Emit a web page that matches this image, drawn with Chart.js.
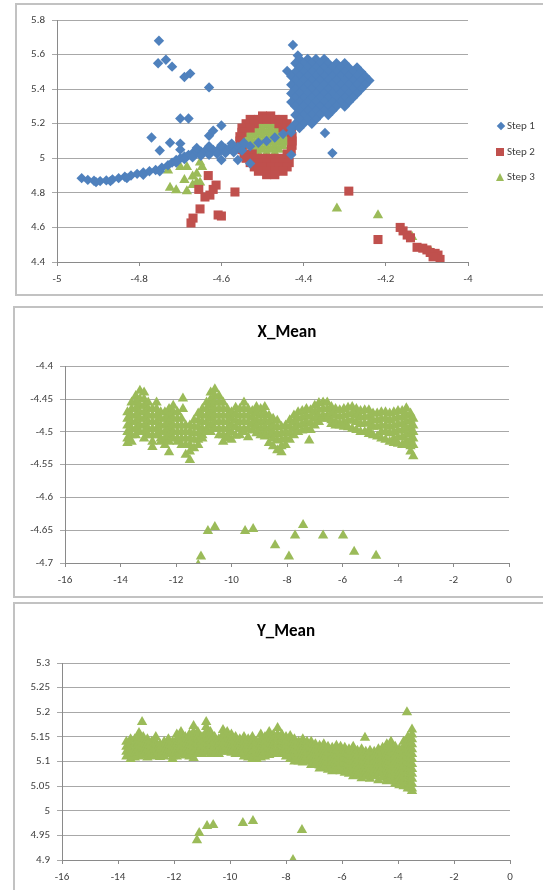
<!DOCTYPE html>
<html>
<head>
<meta charset="utf-8">
<title>Steps and means</title>
<script src="https://cdn.jsdelivr.net/npm/chart.js@4.4.1/dist/chart.umd.min.js"></script>
<style>
    html, body { margin: 0; padding: 0; background: #fff; }
    body { width: 543px; height: 890px; position: relative; overflow: hidden; font-family: Carlito, Lato, sans-serif; }
    .frame { position: absolute; border: 2px solid #c2c2c2; box-sizing: border-box; }
    canvas { position: absolute; left: 0; }
    .legendItem { position: absolute; left: 496px; height: 14px; line-height: 14px; font-size: 11px; color: #404040; white-space: nowrap; }
    .legendItem span { display: inline-block; vertical-align: middle; margin-right: 3px; }
    .mk-diamond { width: 6px; height: 6px; background: #4f81bd; transform: rotate(45deg); margin-left: 2px; }
    .mk-square { width: 8px; height: 8px; background: #c0504d; }
    .mk-triangle { width: 0; height: 0; border-left: 4.5px solid transparent; border-right: 4.5px solid transparent; border-bottom: 8px solid #9bbb59; }
</style>
</head>
<body>

<div class="frame" style="left:15px; top:3px; width:540px; height:293px;"></div>
<div class="frame" style="left:13px; top:306px; width:542px; height:292px;"></div>
<div class="frame" style="left:13px; top:602px; width:542px; height:300px;"></div>

<canvas id="stepChart" width="543" height="297" style="top:0px;"></canvas>
<canvas id="xMeanChart" width="543" height="297" style="top:300px;"></canvas>
<canvas id="yMeanChart" width="543" height="292" style="top:598px;"></canvas>

<div class="legendItem" style="top:119px;"><span class="mk-diamond"></span>Step 1</div>
<div class="legendItem" style="top:145px;"><span class="mk-square"></span>Step 2</div>
<div class="legendItem" style="top:170px;"><span class="mk-triangle"></span>Step 3</div>

<script>
// ----------- Data ----------------- //

// scattered points are [x, y]
// blob rows are [y, x1, x2, ...]
// band columns are [x, y1, y2, ...]

const step1Points = [
    [-4.94,4.885],[-4.925,4.875],[-4.91,4.87],[-4.895,4.868],[-4.88,4.872],[-4.865,4.878],[-4.85,4.885],
    [-4.835,4.893],[-4.82,4.9],[-4.805,4.91],[-4.79,4.918],[-4.775,4.925],[-4.76,4.932],[-4.745,4.945],
    [-4.73,4.96],[-4.72,4.975],[-4.71,4.99],[-4.70,5.0],[-4.69,5.01],[-4.68,5.02],[-4.67,5.03],[-4.66,5.035],
    [-4.65,5.04],[-4.64,5.042],[-4.63,5.045],[-4.62,5.048],[-4.61,5.046],[-4.60,5.05],[-4.59,5.055],
    [-4.58,5.058],[-4.57,5.06],[-4.56,5.065],[-4.55,5.07],
    [-4.905,4.862],[-4.87,4.868],[-4.83,4.885],[-4.79,4.905],[-4.75,4.925],[-4.71,4.975],[-4.69,4.995],
    [-4.67,5.005],[-4.65,5.015],[-4.63,5.02],[-4.61,5.025],[-4.59,5.03],[-4.57,5.035],[-4.55,5.045],
    [-4.66,5.06],[-4.63,5.07],[-4.60,5.075],[-4.575,5.085],[-4.545,5.09],[-4.56,4.99],[-4.60,4.99],[-4.53,4.97],
    [-4.53,5.07],[-4.51,5.09],[-4.49,5.1],[-4.47,5.12],[-4.45,5.14],[-4.43,5.02],
    [-4.43,5.15],[-4.425,5.18],[-4.348,5.146],[-4.33,5.03],
    [-4.752,5.68],[-4.754,5.55],[-4.735,5.57],[-4.72,5.53],[-4.69,5.47],[-4.676,5.49],[-4.63,5.41],
    [-4.70,5.23],[-4.68,5.23],[-4.77,5.12],[-4.63,5.13],[-4.62,5.16],[-4.60,5.19],[-4.725,5.09],
    [-4.70,5.085],[-4.75,5.045],[-4.70,5.05],
    [-4.426,5.655],[-4.414,5.595],[-4.44,5.505]
];
const step1Blob = [
    [5.575, -4.41,-4.39,-4.37,-4.35],
    [5.55, -4.42,-4.40,-4.38,-4.36,-4.34,-4.32,-4.30],
    [5.525, -4.41,-4.39,-4.37,-4.35,-4.33,-4.31,-4.29,-4.27],
    [5.50, -4.42,-4.40,-4.38,-4.36,-4.34,-4.32,-4.30,-4.28,-4.26],
    [5.475, -4.43,-4.41,-4.39,-4.37,-4.35,-4.33,-4.31,-4.29,-4.27,-4.25],
    [5.45, -4.42,-4.40,-4.38,-4.36,-4.34,-4.32,-4.30,-4.28,-4.26,-4.24],
    [5.425, -4.43,-4.41,-4.39,-4.37,-4.35,-4.33,-4.31,-4.29,-4.27,-4.25],
    [5.40, -4.42,-4.40,-4.38,-4.36,-4.34,-4.32,-4.30,-4.28,-4.26],
    [5.375, -4.43,-4.41,-4.39,-4.37,-4.35,-4.33,-4.31,-4.29,-4.27],
    [5.35, -4.42,-4.40,-4.38,-4.36,-4.34,-4.32,-4.30,-4.28],
    [5.325, -4.43,-4.41,-4.39,-4.37,-4.35,-4.33,-4.31,-4.29],
    [5.30, -4.42,-4.40,-4.38,-4.36,-4.34,-4.32,-4.30],
    [5.275, -4.41,-4.39,-4.37,-4.35,-4.33],
    [5.25, -4.42,-4.40,-4.38,-4.36,-4.34],
    [5.225, -4.41,-4.39,-4.37],
    [5.20, -4.42,-4.40,-4.38],
    [5.175, -4.43,-4.41]
];

const step2Points = [
    [-4.632,4.90],[-4.613,4.845],[-4.62,4.82],[-4.628,4.787],[-4.64,4.776],[-4.655,4.82],[-4.567,4.805],
    [-4.652,4.707],[-4.669,4.654],[-4.674,4.626],[-4.608,4.672],[-4.60,4.666],
    [-4.29,4.81],[-4.219,4.53],[-4.165,4.60],[-4.158,4.58],[-4.148,4.556],[-4.14,4.54],[-4.124,4.485],
    [-4.11,4.48],[-4.10,4.47],[-4.092,4.455],[-4.08,4.45],[-4.073,4.44],[-4.068,4.415],[-4.085,4.43]
];
const step2Blob = [
    [5.245, -4.50,-4.48],
    [5.225, -4.53,-4.51,-4.49,-4.47,-4.45],
    [5.20, -4.54,-4.52,-4.46,-4.44],
    [5.175, -4.55,-4.53,-4.45,-4.43],
    [5.15, -4.55,-4.43],
    [5.125, -4.555,-4.428],
    [5.10, -4.555,-4.428],
    [5.075, -4.55,-4.428],
    [5.05, -4.55,-4.43],
    [5.025, -4.545,-4.525,-4.44],
    [5.00, -4.54,-4.52,-4.50,-4.48,-4.46,-4.44],
    [4.975, -4.53,-4.51,-4.49,-4.47,-4.45,-4.435],
    [4.95, -4.52,-4.50,-4.48,-4.46,-4.44],
    [4.925, -4.51,-4.49,-4.47,-4.45],
    [4.905, -4.49,-4.47]
];

const step3Points = [
    [-4.725,4.83],[-4.71,4.815],[-4.684,4.81],[-4.70,4.95],[-4.684,4.95],[-4.652,4.975],[-4.647,4.95],
    [-4.69,4.875],[-4.67,4.895],[-4.66,4.86],[-4.67,4.845],[-4.652,4.86],[-4.73,4.93],[-4.66,4.91],
    [-4.319,4.71],[-4.219,4.67],[-4.136,4.545],[-4.09,4.46]
];
const step3Blob = [
    [5.21, -4.50,-4.48],
    [5.19, -4.51,-4.49,-4.47],
    [5.17, -4.52,-4.50,-4.48,-4.46],
    [5.15, -4.53,-4.51,-4.49,-4.47,-4.45],
    [5.13, -4.54,-4.52,-4.50,-4.48,-4.46,-4.44],
    [5.11, -4.545,-4.53,-4.51,-4.49,-4.47,-4.45,-4.435],
    [5.09, -4.54,-4.52,-4.50,-4.48,-4.46,-4.44],
    [5.07, -4.53,-4.51,-4.49,-4.47,-4.45],
    [5.05, -4.52,-4.50,-4.48,-4.46],
    [5.03, -4.51,-4.49,-4.47]
];

const xMeanBand = [
    [-13.75,-4.47,-4.48,-4.49,-4.50,-4.51,-4.517],
    [-13.6,-4.455,-4.465,-4.475,-4.485,-4.495,-4.505,-4.515],
    [-13.45,-4.445,-4.455,-4.465,-4.475,-4.485,-4.495,-4.505],
    [-13.3,-4.437,-4.45,-4.46,-4.47,-4.48,-4.49,-4.50],
    [-13.15,-4.44,-4.45,-4.46,-4.47,-4.48,-4.49,-4.50,-4.51],
    [-13.0,-4.455,-4.465,-4.475,-4.485,-4.495,-4.505],
    [-12.85,-4.465,-4.475,-4.485,-4.495,-4.505,-4.515,-4.523],
    [-12.7,-4.455,-4.465,-4.475,-4.485,-4.495,-4.505],
    [-12.55,-4.47,-4.48,-4.49,-4.50,-4.51,-4.515],
    [-12.4,-4.47,-4.48,-4.49,-4.50,-4.51,-4.52],
    [-12.25,-4.465,-4.475,-4.485,-4.495,-4.505,-4.515,-4.531],
    [-12.1,-4.46,-4.47,-4.48,-4.49,-4.50,-4.51],
    [-11.95,-4.47,-4.48,-4.49,-4.50,-4.51,-4.515],
    [-11.8,-4.48,-4.49,-4.50,-4.51,-4.52],
    [-11.75,-4.449,-4.465],
    [-11.65,-4.49,-4.50,-4.51,-4.52,-4.535],
    [-11.5,-4.49,-4.50,-4.51,-4.52,-4.53,-4.543],
    [-11.35,-4.482,-4.492,-4.502,-4.512,-4.525],
    [-11.2,-4.472,-4.482,-4.492,-4.502,-4.512,-4.52],
    [-11.05,-4.465,-4.475,-4.485,-4.495,-4.505,-4.51],
    [-10.9,-4.455,-4.465,-4.475,-4.485,-4.495,-4.50],
    [-10.75,-4.44,-4.45,-4.46,-4.47,-4.48,-4.49,-4.50],
    [-10.6,-4.435,-4.445,-4.455,-4.465,-4.475,-4.485,-4.495],
    [-10.45,-4.445,-4.455,-4.465,-4.475,-4.485,-4.495,-4.505],
    [-10.3,-4.455,-4.465,-4.475,-4.485,-4.495,-4.505,-4.515],
    [-10.15,-4.465,-4.475,-4.485,-4.495,-4.505,-4.51],
    [-10.0,-4.47,-4.48,-4.49,-4.50,-4.512],
    [-9.85,-4.463,-4.473,-4.483,-4.493,-4.506],
    [-9.7,-4.465,-4.475,-4.485,-4.495,-4.505],
    [-9.55,-4.455,-4.465,-4.475,-4.485,-4.495,-4.50],
    [-9.4,-4.465,-4.475,-4.485,-4.495,-4.508],
    [-9.25,-4.468,-4.478,-4.488,-4.498],
    [-9.1,-4.462,-4.472,-4.482,-4.492,-4.502],
    [-8.95,-4.465,-4.475,-4.485,-4.495,-4.505],
    [-8.8,-4.462,-4.472,-4.482,-4.492,-4.502,-4.507],
    [-8.65,-4.475,-4.485,-4.495,-4.505,-4.517],
    [-8.5,-4.48,-4.49,-4.50,-4.51,-4.522],
    [-8.35,-4.483,-4.493,-4.503,-4.513,-4.528],
    [-8.2,-4.492,-4.502,-4.512,-4.522,-4.531],
    [-8.05,-4.49,-4.50,-4.51,-4.52],
    [-7.9,-4.482,-4.492,-4.502,-4.512],
    [-7.75,-4.475,-4.485,-4.495,-4.505],
    [-7.6,-4.47,-4.48,-4.49,-4.50],
    [-7.45,-4.468,-4.478,-4.488,-4.498],
    [-7.3,-4.465,-4.475,-4.485,-4.495],
    [-7.2,-4.513],
    [-7.15,-4.467,-4.477,-4.487,-4.497],
    [-7.0,-4.46,-4.47,-4.48,-4.49],
    [-6.85,-4.456,-4.466,-4.476,-4.485],
    [-6.7,-4.455,-4.465,-4.475,-4.48],
    [-6.55,-4.455,-4.465,-4.475,-4.48],
    [-6.4,-4.462,-4.472,-4.482,-4.488],
    [-6.25,-4.465,-4.475,-4.485,-4.49],
    [-6.1,-4.467,-4.477,-4.487,-4.49],
    [-5.95,-4.465,-4.475,-4.485,-4.492],
    [-5.8,-4.463,-4.473,-4.483,-4.493],
    [-5.65,-4.462,-4.472,-4.482,-4.495],
    [-5.5,-4.465,-4.475,-4.485,-4.497],
    [-5.35,-4.468,-4.478,-4.488,-4.50],
    [-5.2,-4.467,-4.477,-4.487,-4.50],
    [-5.05,-4.467,-4.477,-4.487,-4.497,-4.503],
    [-4.9,-4.472,-4.482,-4.492,-4.505],
    [-4.75,-4.472,-4.482,-4.492,-4.507],
    [-4.6,-4.47,-4.48,-4.49,-4.50,-4.51],
    [-4.45,-4.47,-4.48,-4.49,-4.50,-4.512],
    [-4.3,-4.472,-4.482,-4.492,-4.502,-4.515],
    [-4.15,-4.47,-4.48,-4.49,-4.50,-4.51,-4.517],
    [-4.0,-4.468,-4.478,-4.488,-4.498,-4.508,-4.518],
    [-3.85,-4.468,-4.478,-4.488,-4.498,-4.508,-4.52],
    [-3.7,-4.464,-4.474,-4.484,-4.494,-4.504,-4.514,-4.52],
    [-3.55,-4.472,-4.482,-4.492,-4.502,-4.512,-4.522,-4.53],
    [-3.45,-4.48,-4.49,-4.50,-4.51,-4.52,-4.537]
];
const xMeanLow = [
    [-11.2,-4.703],[-11.1,-4.69],[-10.85,-4.651],[-10.6,-4.645],[-9.51,-4.651],[-9.22,-4.648],
    [-8.43,-4.673],[-7.93,-4.69],[-7.71,-4.658],[-7.42,-4.642],[-6.70,-4.658],[-5.98,-4.658],
    [-5.58,-4.683],[-4.79,-4.689]
];

const yMeanBand = [
    [-13.7,5.14,5.13,5.12,5.11],
    [-13.55,5.145,5.135,5.125,5.115,5.105],
    [-13.4,5.145,5.135,5.125,5.115,5.108],
    [-13.25,5.158,5.148,5.138,5.128,5.118,5.11],
    [-13.14,5.18],
    [-13.1,5.15,5.14,5.13,5.12,5.112],
    [-12.95,5.145,5.135,5.125,5.115,5.108],
    [-12.8,5.14,5.13,5.12,5.11],
    [-12.65,5.15,5.14,5.13,5.12,5.112],
    [-12.5,5.135,5.125,5.115,5.109],
    [-12.35,5.14,5.13,5.12,5.11],
    [-12.2,5.145,5.135,5.125,5.115],
    [-12.05,5.14,5.13,5.12,5.11,5.105],
    [-11.9,5.155,5.145,5.135,5.125,5.115,5.11],
    [-11.75,5.16,5.15,5.14,5.13,5.12,5.115],
    [-11.6,5.15,5.14,5.13,5.12,5.112],
    [-11.45,5.155,5.145,5.135,5.125,5.115,5.11],
    [-11.3,5.172,5.16,5.15,5.14,5.13,5.12,5.107],
    [-11.15,5.16,5.15,5.14,5.13,5.12,5.115],
    [-11.0,5.15,5.14,5.13,5.12,5.115],
    [-10.85,5.18,5.17,5.16,5.15,5.14,5.13,5.12],
    [-10.7,5.16,5.15,5.14,5.13,5.12,5.115],
    [-10.55,5.15,5.14,5.13,5.12,5.115],
    [-10.4,5.145,5.135,5.125,5.115],
    [-10.25,5.164,5.155,5.145,5.135,5.125,5.12],
    [-10.1,5.16,5.15,5.14,5.13,5.12],
    [-9.95,5.155,5.145,5.135,5.125,5.118],
    [-9.8,5.15,5.14,5.13,5.12,5.115],
    [-9.65,5.145,5.135,5.125,5.115],
    [-9.5,5.15,5.14,5.13,5.12,5.11],
    [-9.35,5.145,5.135,5.125,5.115,5.108],
    [-9.2,5.15,5.14,5.13,5.12,5.11,5.105],
    [-9.05,5.14,5.13,5.12,5.11,5.105],
    [-8.9,5.155,5.145,5.135,5.125,5.115,5.108],
    [-8.75,5.15,5.14,5.13,5.12,5.11],
    [-8.6,5.16,5.15,5.14,5.13,5.12,5.113],
    [-8.45,5.155,5.145,5.135,5.125,5.115],
    [-8.3,5.168,5.155,5.145,5.135,5.125,5.118],
    [-8.15,5.155,5.145,5.135,5.125,5.115],
    [-8.0,5.15,5.14,5.13,5.12,5.11],
    [-7.85,5.152,5.142,5.132,5.122,5.112,5.105],
    [-7.7,5.145,5.135,5.125,5.115,5.105,5.10],
    [-7.55,5.14,5.13,5.12,5.11,5.10],
    [-7.4,5.145,5.135,5.125,5.115,5.105,5.098],
    [-7.25,5.14,5.13,5.12,5.11,5.10],
    [-7.1,5.14,5.13,5.12,5.11,5.10,5.093],
    [-6.95,5.135,5.125,5.115,5.105,5.095],
    [-6.8,5.132,5.122,5.112,5.102,5.092,5.086],
    [-6.65,5.135,5.125,5.115,5.105,5.095,5.087],
    [-6.5,5.13,5.12,5.11,5.10,5.09,5.083],
    [-6.35,5.128,5.118,5.108,5.098,5.088,5.08],
    [-6.2,5.132,5.122,5.112,5.102,5.092,5.082],
    [-6.05,5.13,5.12,5.11,5.10,5.09,5.08],
    [-5.9,5.128,5.118,5.108,5.098,5.088,5.077],
    [-5.75,5.125,5.115,5.105,5.095,5.085,5.075],
    [-5.6,5.13,5.12,5.11,5.10,5.09,5.08,5.07],
    [-5.45,5.122,5.112,5.102,5.092,5.082,5.072],
    [-5.3,5.125,5.115,5.105,5.095,5.085,5.075,5.066],
    [-5.18,5.148],
    [-5.15,5.12,5.11,5.10,5.09,5.08,5.07],
    [-5.0,5.122,5.112,5.102,5.092,5.082,5.072,5.065],
    [-4.85,5.12,5.11,5.10,5.09,5.08,5.07],
    [-4.7,5.125,5.115,5.105,5.095,5.085,5.075,5.062],
    [-4.55,5.128,5.118,5.108,5.098,5.088,5.078,5.068],
    [-4.4,5.135,5.125,5.115,5.105,5.095,5.085,5.075,5.065,5.06],
    [-4.25,5.14,5.13,5.12,5.11,5.10,5.09,5.08,5.07,5.062],
    [-4.1,5.13,5.12,5.11,5.10,5.09,5.08,5.07,5.06,5.055],
    [-3.95,5.125,5.115,5.105,5.095,5.085,5.075,5.065,5.055,5.052],
    [-3.8,5.14,5.13,5.12,5.11,5.10,5.09,5.08,5.07,5.06,5.05],
    [-3.68,5.20],
    [-3.65,5.15,5.14,5.13,5.12,5.11,5.10,5.09,5.08,5.07,5.06,5.05,5.045],
    [-3.5,5.165,5.155,5.145,5.135,5.125,5.115,5.105,5.095,5.085,5.075,5.065,5.055,5.045,5.04]
];
const yMeanLow = [
    [-11.18,4.94],[-11.1,4.955],[-10.82,4.969],[-10.6,4.971],[-9.54,4.975],[-9.18,4.979],
    [-7.43,4.961],[-7.75,4.90]
];

// axis ranges [min, max, step]
const stepXRange = [-5, -4, 0.2];
const stepYRange = [4.4, 5.8, 0.2];
const meanXRange = [-16, 0, 2];
const xMeanYRange = [-4.7, -4.4, 0.05];
const yMeanYRange = [4.9, 5.3, 0.05];

// ----------- Helpers ----------------- //

const fromPairs = (list) => list.map(([x, y]) => ({ x: x, y: y }));
const fromRows = (list) => {
    let out = [];
    list.forEach(([y, ...xs]) => xs.forEach(x => out.push({ x: x, y: y })));
    return out;
};
const fromCols = (list) => {
    let out = [];
    list.forEach(([x, ...ys]) => ys.forEach(y => out.push({ x: x, y: y })));
    return out;
};

const blue = '#4f81bd', red = '#c0504d', green = '#9bbb59';
const gridGray = '#a8a8a8', axisGray = '#8a8a8a', tickColor = '#404040';

Chart.defaults.font.family = 'Carlito, Lato, sans-serif';

// Excel style labels: 5 not 5.0, -4.4 not -4.40
const plainNumber = (value) => String(Number(value.toFixed(3)));

const xAxis = (range, height) => ({
    type: 'linear',
    min: range[0], max: range[1],
    ticks: { stepSize: range[2], color: tickColor, font: { size: 11 }, padding: 7, maxRotation: 0, autoSkip: false, callback: plainNumber },
    grid: { drawOnChartArea: false, drawTicks: true, tickLength: 4, color: axisGray },
    border: { color: axisGray },
    afterFit: (scale) => { scale.height = height; }
});

const yAxis = (range, width) => ({
    type: 'linear',
    min: range[0], max: range[1],
    ticks: { stepSize: range[2], color: tickColor, font: { size: 11 }, padding: 7, autoSkip: false, callback: plainNumber },
    grid: { color: gridGray, tickLength: 5 },
    border: { color: axisGray },
    afterFit: (scale) => { scale.width = width; }
});

const dot = (label, data, style, radius, color) => ({
    label: label,
    data: data,
    pointStyle: style,
    pointRadius: radius,
    backgroundColor: color,
    borderColor: color,
    borderWidth: 0,
    showLine: false
});

// ----------- Step chart ----------------- //

new Chart(document.getElementById('stepChart'), {
    type: 'scatter',
    data: {
        datasets: [
            dot('Step 1', fromPairs(step1Points).concat(fromRows(step1Blob)), 'rectRot', 5.2, blue),
            dot('Step 2', fromPairs(step2Points).concat(fromRows(step2Blob)), 'rect', 6.4, red),
            dot('Step 3', fromPairs(step3Points).concat(fromRows(step3Blob)), 'triangle', 6, green)
        ]
    },
    options: {
        responsive: false,
        animation: false,
        events: [],
        layout: { padding: { left: 0, top: 20, right: 75, bottom: 5 } },
        scales: { x: xAxis(stepXRange, 30), y: yAxis(stepYRange, 57) },
        plugins: { legend: { display: false }, tooltip: { enabled: false } }
    }
});

// ----------- X_Mean ----------------- //

new Chart(document.getElementById('xMeanChart'), {
    type: 'scatter',
    data: {
        datasets: [
            dot('X_Mean', fromCols(xMeanBand).concat(fromPairs(xMeanLow)), 'triangle', 6, green)
        ]
    },
    options: {
        responsive: false,
        animation: false,
        events: [],
        layout: { padding: { left: 0, top: 8, right: 34, bottom: 4 } },
        scales: { x: xAxis(meanXRange, 30), y: yAxis(xMeanYRange, 65) },
        plugins: {
            legend: { display: false },
            tooltip: { enabled: false },
            title: {
                display: true, text: 'X_Mean', fullSize: false, color: '#000',
                font: { size: 17, weight: 'bold' }, padding: { top: 15, bottom: 23 }
            }
        }
    }
});

// ----------- Y_Mean ----------------- //

new Chart(document.getElementById('yMeanChart'), {
    type: 'scatter',
    data: {
        datasets: [
            dot('Y_Mean', fromCols(yMeanBand).concat(fromPairs(yMeanLow)), 'triangle', 6, green)
        ]
    },
    options: {
        responsive: false,
        animation: false,
        events: [],
        layout: { padding: { left: 0, top: 8, right: 33, bottom: 4 } },
        scales: { x: xAxis(meanXRange, 26), y: yAxis(yMeanYRange, 62) },
        plugins: {
            legend: { display: false },
            tooltip: { enabled: false },
            title: {
                display: true, text: 'Y_Mean', fullSize: false, color: '#000',
                font: { size: 17, weight: 'bold' }, padding: { top: 16, bottom: 20.6 }
            }
        }
    }
});
</script>
</body>
</html>
